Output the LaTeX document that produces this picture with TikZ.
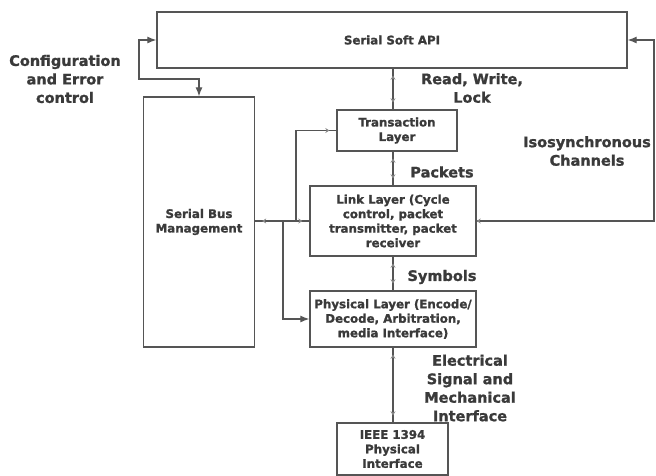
\documentclass[tikz,border=0pt]{standalone}
\usepackage{fontspec}
\setmainfont{DejaVu Sans}[BoldFeatures={FakeBold=1.2}]
\usetikzlibrary{arrows.meta,decorations.markings}
\definecolor{inkc}{HTML}{3A3A3A}
\definecolor{linec}{HTML}{555555}
\definecolor{tickc}{HTML}{8A8A8A}
\begin{document}
\begin{tikzpicture}[x=1pt,y=-1pt,
  box/.style={draw=linec, line width=1.3pt, align=center, inner sep=1pt,
    text=inkc, font=\fontsize{11.8}{14.5}\selectfont\bfseries},
  lbl/.style={align=center, text=inkc, font=\fontsize{14.5}{18.5}\selectfont\bfseries},
  wire/.style={draw=linec, line width=1.2pt},
  bigtip/.style={wire, -{Latex[length=9pt,width=7pt]}},
  bothtip/.style={wire, {Latex[length=9pt,width=7pt]}-{Latex[length=9pt,width=7pt]}},
  dblink/.style={wire, postaction={decorate}, decoration={markings,
    mark=at position 7pt with {\arrowreversed{Stealth[length=4pt,width=5pt,color=tickc]}},
    mark=at position -7pt with {\arrow{Stealth[length=4pt,width=5pt,color=tickc]}}}},
  endtick/.style={wire, postaction={decorate}, decoration={markings,
    mark=at position -7pt with {\arrow{Stealth[length=4pt,width=5pt,color=tickc]}}}}
]
\useasboundingbox[fill=white] (0,0) rectangle (656,475);

% layer boxes
\node[box, minimum width=470pt, minimum height=56pt] (api) at (392,40) {Serial Soft API};
\node[box, minimum width=111pt, minimum height=250pt] (sbm) at (199,222) {Serial Bus\\Management};
\node[box, minimum width=120pt, minimum height=41pt] (trans) at (397,130.5) {Transaction\\Layer};
\node[box, minimum width=166pt, minimum height=70pt] (link) at (393,221) {Link Layer (Cycle\\control, packet\\transmitter, packet\\receiver};
\node[box, minimum width=166pt, minimum height=56pt] (phys) at (393,319) {Physical Layer (Encode/\\Decode, Arbitration,\\media Interface)};
\node[box, minimum width=111pt, minimum height=52pt] (ieee) at (392.5,449) {IEEE 1394\\Physical\\Interface};

% side labels
\node[lbl] (cfglbl) at (65,79) {Configuration\\and Error\\control};
\node[lbl] (rwl) at (472,88) {Read, Write,\\Lock};
\node[lbl] (pkt) at (442,172) {Packets};
\node[lbl] (iso) at (587,151) {Isosynchronous\\Channels};
\node[lbl] (sym) at (442,277) {Symbols};
\node[lbl] (elec) at (470,388) {Electrical\\Signal and\\Mechanical\\Interface};

% helper points
\coordinate (spine) at (393,0);
\coordinate (cfg) at (139,79);
\coordinate (isoc) at (654,40);
\coordinate (bt) at (296,221);
\coordinate (bp) at (283,221);

% vertical stack
\draw[dblink] (api.south -| spine) -- (trans.north -| spine);
\draw[dblink] (trans.south -| spine) -- (link.north -| spine);
\draw[dblink] (link.south -| spine) -- (phys.north -| spine);
\draw[dblink] (phys.south -| spine) -- (ieee.north -| spine);

% configuration and error control loop
\draw[bothtip] (sbm.north) |- (cfg) |- (api.west);

% isosynchronous channels
\draw[bigtip] (link.east) -| (isoc) -- (api.east);
\draw[wire, -{Stealth[length=4pt,width=5pt,color=tickc]}] (link.east) ++(8,0) -- (link.east);

% bus management links
\draw[dblink] (sbm.east |- link.west) -- (link.west);
\draw[endtick] (bt) |- (trans.west);
\draw[bigtip] (bp) |- (phys.west);
\end{tikzpicture}
\end{document}
